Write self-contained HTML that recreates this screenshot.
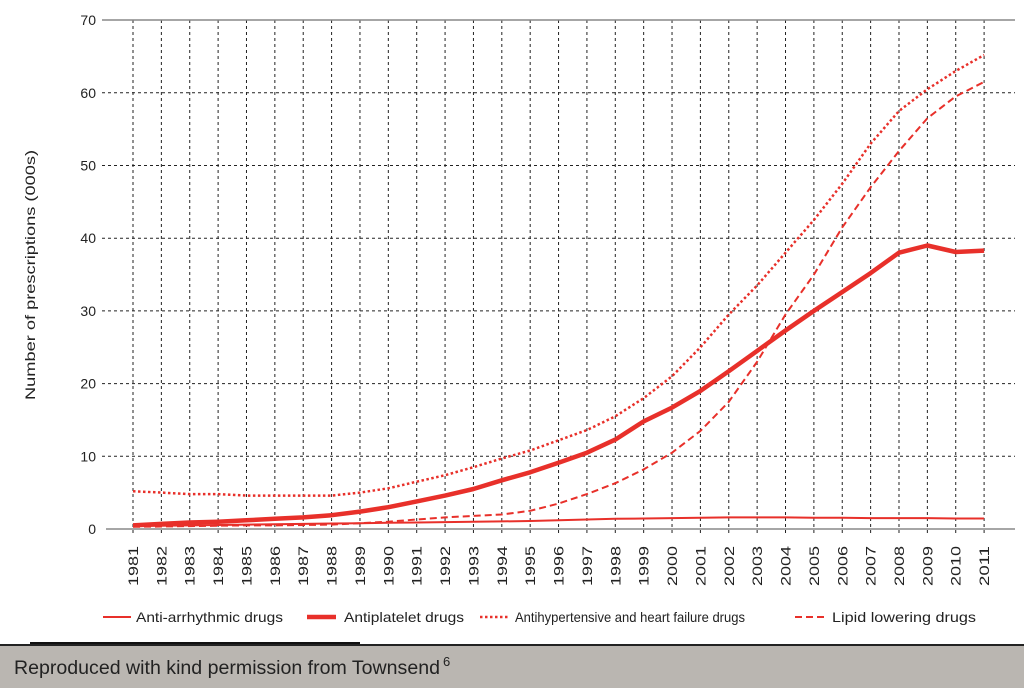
<!DOCTYPE html><html><head><style>body{margin:0;background:#fff}svg{display:block}text{font-family:"Liberation Sans",sans-serif;fill:#222}</style></head><body>
<svg id="s" width="1024" height="688" xmlns="http://www.w3.org/2000/svg">
<rect x="0" y="645" width="1024" height="43" fill="#bab6b1"/>
<rect x="30" y="642" width="330" height="4" fill="#111"/>
<rect x="0" y="644" width="1024" height="2" fill="#222"/>
<text x="14" y="674" font-size="19" textLength="426" lengthAdjust="spacingAndGlyphs" style="fill:#222">Reproduced with kind permission from Townsend</text>
<text x="443" y="666" font-size="13">6</text>
<text transform="translate(35,275) rotate(-90)" text-anchor="middle" font-size="14" textLength="250" lengthAdjust="spacingAndGlyphs">Number of prescriptions (000s)</text>
<g id="g"></g>
<g font-size="14">
<line x1="103" y1="617" x2="131" y2="617" stroke="#e8302a" stroke-width="2"/><text x="136" y="622" textLength="147" lengthAdjust="spacingAndGlyphs">Anti-arrhythmic drugs</text>
<line x1="307" y1="617" x2="336" y2="617" stroke="#e8302a" stroke-width="4.5"/><text x="344" y="622" textLength="120" lengthAdjust="spacingAndGlyphs">Antiplatelet drugs</text>
<line x1="480" y1="617" x2="508" y2="617" stroke="#e8302a" stroke-width="2.5" stroke-dasharray="2.5,2.5"/><text x="515" y="622" textLength="230" lengthAdjust="spacingAndGlyphs">Antihypertensive and heart failure drugs</text>
<line x1="795" y1="617" x2="825" y2="617" stroke="#e8302a" stroke-width="2" stroke-dasharray="7,4"/><text x="832" y="622" textLength="144" lengthAdjust="spacingAndGlyphs">Lipid lowering drugs</text>
</g>
</svg>
<script>
var g=document.getElementById('g'),h='';
function X(i){return 133+i*28.37}function Y(v){return 529-v*7.27}
for(var v=10;v<=60;v+=10)h+='<line x1="102" x2="1015" y1="'+Y(v)+'" y2="'+Y(v)+'" stroke="#222" stroke-dasharray="3,3" stroke-width="1"/>';
for(var i=0;i<31;i++){h+='<line x1="'+X(i)+'" x2="'+X(i)+'" y1="20" y2="536" stroke="#222" stroke-dasharray="3,3" stroke-width="1"/>';
h+='<text transform="translate('+(X(i)+5)+',586) rotate(-90)" font-size="14" textLength="40" lengthAdjust="spacingAndGlyphs">'+(1981+i)+'</text>';}
h+='<line x1="102" x2="1015" y1="20" y2="20" stroke="#888" stroke-width="1.5"/><line x1="106" x2="1015" y1="529" y2="529" stroke="#888" stroke-width="1.5"/>';
for(var v=0;v<=70;v+=10)h+='<text x="96" y="'+(Y(v)+5)+'" text-anchor="end" font-size="14">'+v+'</text>';
var hy=[5.2,5,4.8,4.8,4.6,4.6,4.6,4.6,5,5.6,6.5,7.4,8.5,9.7,10.8,12.2,13.6,15.5,18,21,25,29.5,33.5,38,42.5,47.5,53,57.5,60.5,63,65.2];
var lp=[.3,.35,.4,.45,.5,.5,.55,.6,.8,1,1.3,1.6,1.8,2,2.5,3.5,4.8,6.3,8.2,10.5,13.5,17.5,23,29.5,35,41.5,47,52,56.5,59.5,61.5];
var ap=[.5,.7,.9,1,1.2,1.4,1.6,1.9,2.4,3,3.8,4.6,5.5,6.7,7.8,9.1,10.5,12.3,14.8,16.7,19,21.7,24.5,27.3,30,32.6,35.2,38,39,38.1,38.3];
var aa=[.4,.45,.5,.55,.6,.65,.7,.75,.8,.85,.9,.95,1,1.05,1.1,1.2,1.3,1.4,1.45,1.5,1.55,1.6,1.6,1.6,1.55,1.55,1.5,1.5,1.5,1.45,1.45];
function P(a,w,d){var p=a.map(function(v,i){return X(i).toFixed(1)+','+Y(v).toFixed(1)}).join(' ');return '<polyline fill="none" stroke="#e8302a" stroke-linejoin="round" stroke-width="'+w+'" '+(d?'stroke-dasharray="'+d+'"':'')+' points="'+p+'"/>';}
h+=P(aa,2)+P(hy,2.5,'2.5,2.5')+P(lp,2,'7,4')+P(ap,4.5);
g.innerHTML=h;
</script></body></html>
